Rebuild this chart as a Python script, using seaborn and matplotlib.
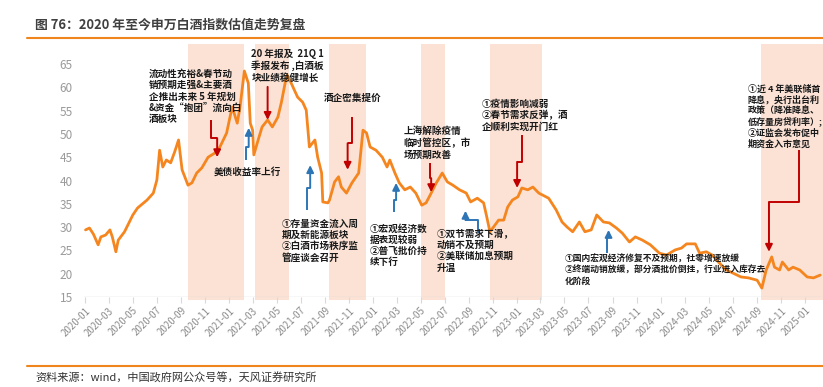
import matplotlib
matplotlib.use('Agg')
import matplotlib.pyplot as plt
import matplotlib.dates as mdates
import numpy as np
import pandas as pd
import seaborn as sns

# 申万白酒指数 PE(TTM)，读图估计
dates = [
    '2020-01-02', '2020-01-12', '2020-01-22', '2020-02-03', '2020-02-10', '2020-02-22',
    '2020-03-04', '2020-03-10', '2020-03-19', '2020-03-25', '2020-04-10', '2020-05-01',
    '2020-05-13', '2020-06-06', '2020-06-22', '2020-07-01', '2020-07-08', '2020-07-16',
    '2020-07-25', '2020-08-05', '2020-08-15', '2020-08-25', '2020-09-03', '2020-09-18',
    '2020-09-28', '2020-10-10', '2020-10-23', '2020-11-08', '2020-11-25', '2020-12-08',
    '2020-12-25', '2021-01-08', '2021-01-21', '2021-01-28', '2021-02-08', '2021-02-18',
    '2021-02-23', '2021-03-01', '2021-03-04', '2021-03-15', '2021-03-25', '2021-04-08',
    '2021-04-20', '2021-05-04', '2021-05-13', '2021-05-24', '2021-05-28', '2021-06-09',
    '2021-06-23', '2021-07-06', '2021-07-15', '2021-07-23', '2021-08-06', '2021-08-13',
    '2021-08-23', '2021-08-26', '2021-09-08', '2021-09-12', '2021-09-25', '2021-10-05',
    '2021-10-12', '2021-10-25', '2021-11-08', '2021-11-25', '2021-12-06', '2021-12-15',
    '2021-12-24', '2022-01-08', '2022-01-24', '2022-02-05', '2022-02-12', '2022-02-25',
    '2022-03-08', '2022-03-22', '2022-04-05', '2022-04-19', '2022-05-04', '2022-05-15',
    '2022-05-28', '2022-06-10', '2022-06-25', '2022-07-08', '2022-07-22', '2022-08-08',
    '2022-08-25', '2022-09-05', '2022-09-22', '2022-10-08', '2022-10-16', '2022-10-24',
    '2022-11-02', '2022-11-15', '2022-11-28', '2022-12-08', '2022-12-20', '2023-01-03',
    '2023-01-13', '2023-01-28', '2023-02-10', '2023-02-25', '2023-03-15', '2023-03-22',
    '2023-04-10', '2023-04-25', '2023-05-08', '2023-05-22', '2023-06-08', '2023-06-22',
    '2023-07-08', '2023-07-22', '2023-08-08', '2023-08-23', '2023-09-10', '2023-09-25',
    '2023-10-13', '2023-10-28', '2023-11-15', '2023-12-05', '2023-12-28', '2024-01-15',
    '2024-02-06', '2024-02-22', '2024-03-06', '2024-03-28', '2024-04-08', '2024-04-25',
    '2024-05-10', '2024-05-28', '2024-06-15', '2024-06-30', '2024-07-22', '2024-08-10',
    '2024-09-01', '2024-09-13', '2024-09-24', '2024-10-08', '2024-10-15', '2024-10-28',
    '2024-11-04', '2024-11-20', '2024-12-01', '2024-12-18', '2025-01-06', '2025-01-22',
    '2025-02-08',
]
pe = [
    29.4, 29.8, 28.5, 26.2, 27.9, 28.3,
    29.4, 27.9, 24.7, 27.2, 29.0, 32.6,
    34.1, 35.8, 37.3, 40.1, 46.5, 42.9,
    44.4, 43.8, 46.1, 48.7, 42.3, 39.0,
    39.5, 41.6, 42.7, 45.0, 45.9, 47.2,
    50.2, 55.8, 52.3, 55.8, 63.5, 60.9,
    52.3, 50.8, 45.5, 48.7, 51.5, 53.0,
    51.5, 53.6, 56.8, 61.6, 62.6, 60.5,
    57.9, 56.8, 55.1, 47.2, 48.7, 45.0,
    41.6, 35.4, 35.2, 35.8, 39.7, 40.8,
    38.6, 37.3, 39.5, 41.6, 50.8, 50.2,
    47.2, 46.5, 45.0, 42.9, 44.4, 41.6,
    39.5, 38.0, 38.6, 37.3, 34.7, 35.2,
    37.3, 39.5, 41.6, 39.7, 39.0, 38.0,
    37.3, 35.4, 36.2, 35.2, 32.2, 29.0,
    30.0, 31.5, 31.5, 34.3, 35.8, 36.5,
    38.4, 38.0, 38.6, 37.3, 36.5, 36.2,
    33.7, 31.1, 30.0, 29.0, 31.1, 29.0,
    29.4, 32.6, 31.1, 30.9, 29.8, 28.7,
    26.8, 27.9, 27.2, 26.2, 24.4, 24.0,
    25.1, 25.5, 26.4, 26.4, 24.4, 24.7,
    24.0, 22.3, 20.8, 20.2, 19.3, 19.1,
    18.6, 16.9, 20.8, 23.6, 21.4, 20.8,
    22.5, 20.8, 21.4, 20.8, 19.3, 19.1,
    19.7,
]

# 阴影区间
span_start = ['2020-09-18', '2021-03-06', '2021-09-10', '2022-05-03', '2022-10-25', '2024-09-10']
span_end = ['2021-02-08', '2021-06-01', '2021-12-13', '2022-07-01', '2023-03-06', '2025-03-01']

# 注释文字：(左上角日期, 左上角数值, 文本, 字号)
notes = [
    ('2020-06-11', 64.0, '流动性充裕&春节动\n销预期走强&主要酒\n企推出未来 5 年规划\n&资金“抱团”流向白\n酒板块', 6.9),
    ('2020-11-21', 43.0, '美债收益率上行', 6.9),
    ('2021-02-26', 68.3, '20 年报及  21Q 1\n季报发布 ,白酒板\n块业绩稳健增长', 6.9),
    ('2021-08-29', 58.9, '酒企密集提价', 6.9),
    ('2021-05-13', 31.8, '①存量资金流入周\n期及新能源板块\n②白酒市场秩序监\n管座谈会召开', 6.9),
    ('2021-12-23', 30.8, '①宏观经济数\n据表现较弱\n②普飞批价持\n续下行', 6.9),
    ('2022-03-19', 51.6, '上海解除疫情\n临时管控区，市\n场预期改善', 6.9),
    ('2022-06-10', 29.7, '①双节需求下滑，\n动销不及预期\n②美联储加息预期\n升温', 6.9),
    ('2022-10-04', 57.6, '①疫情影响减弱\n②春节需求反弹，酒\n企顺利实现开门红', 6.9),
    ('2023-05-01', 24.1, '①国内宏观经济修复不及预期，社零增速放缓\n②终端动销放缓，部分酒批价倒挂，行业进入库存去\n化阶段', 6.3),
    ('2024-08-08', 60.7, '①近 4 年美联储首\n降息，央行出台利\n政策（降准降息、\n低存量房贷利率）;\n②证监会发布促中\n期资金入市意见', 6.5),
]

# 箭头折线：(颜色, [(日期, 数值), ...])，最后一点为箭头尖
RED = '#C00000'
BLUE = '#2E75B6'
arrows = [
    (RED, [('2020-11-16', 53.0), ('2020-11-16', 49.1), ('2020-12-01', 49.1), ('2020-12-01', 45.0)]),
    (BLUE, [('2021-02-13', 44.4), ('2021-02-13', 47.2), ('2021-02-19', 47.2), ('2021-02-19', 51.3)]),
    (RED, [('2021-04-08', 60.1), ('2021-04-08', 53.0)]),
    (RED, [('2021-11-08', 53.6), ('2021-11-08', 48.0), ('2021-10-28', 48.0), ('2021-10-28', 42.3)]),
    (BLUE, [('2021-07-18', 33.7), ('2021-07-18', 38.4), ('2021-07-25', 38.4), ('2021-07-25', 43.3)]),
    (BLUE, [('2022-02-23', 33.2), ('2022-02-23', 35.8), ('2022-02-28', 35.8), ('2022-02-28', 39.5)]),
    (RED, [('2022-05-25', 43.8), ('2022-05-25', 40.5), ('2022-05-28', 40.5), ('2022-05-28', 37.5)]),
    (BLUE, [('2022-09-25', 28.7), ('2022-09-25', 31.5), ('2022-08-23', 31.5), ('2022-08-23', 33.5)]),
    (RED, [('2023-01-13', 49.8), ('2023-01-13', 44.0), ('2023-01-01', 44.0), ('2023-01-01', 38.4)]),
    (BLUE, [('2023-08-16', 24.4), ('2023-08-16', 27.9), ('2023-08-21', 27.9), ('2023-08-21', 29.4)]),
    (RED, [('2024-12-16', 46.5), ('2024-12-16', 35.4), ('2024-10-01', 35.4), ('2024-10-01', 24.7)]),
]

yticks = [15, 20, 25, 30, 35, 40, 45, 50, 55, 60, 65]

sns.set_theme(style='white')
plt.rcParams['font.family'] = ['Noto Sans CJK SC', 'DejaVu Sans']
plt.rcParams['axes.unicode_minus'] = False

df = pd.DataFrame({'date': pd.to_datetime(dates), 'pe': pe})

fig = plt.figure(figsize=(8.23, 3.87), dpi=100)
ax = fig.add_axes([0.102, 0.2326, 0.897, 0.6537])

for s, e in zip(span_start, span_end):
    ax.axvspan(pd.Timestamp(s), pd.Timestamp(e), ymin=-0.012, ymax=1.0,
               color='#FBE2D5', lw=0, zorder=0, clip_on=False)

sns.lineplot(data=df, x='date', y='pe', ax=ax, color='#F5861F', lw=2.0, zorder=3)

ax.axhline(15, color='#D9D9D9', lw=1.0, zorder=1)

for color, pts in arrows:
    xs = [pd.Timestamp(p[0]) for p in pts]
    ys = [p[1] for p in pts]
    ax.plot(xs[:-1], ys[:-1], color=color, lw=1.4, zorder=4, solid_capstyle='butt')
    ax.annotate('', xy=(xs[-1], ys[-1]), xytext=(xs[-2], ys[-2]),
                arrowprops=dict(arrowstyle='-|>,head_length=0.7,head_width=0.35',
                                mutation_scale=6, color=color, lw=1.4,
                                shrinkA=0, shrinkB=0),
                zorder=4)

for d, v, txt, fs in notes:
    ax.text(pd.Timestamp(d), v, txt, ha='left', va='top', fontsize=fs,
            fontweight='bold', color='#1A1A1A', linespacing=1.2 * 6.7 / fs, zorder=5)

ax.set_xlim(pd.Timestamp('2019-12-29'), pd.Timestamp('2025-02-13'))
ax.set_ylim(15, 69.3)
ax.set_yticks(yticks)
ax.set_xticks(pd.date_range('2020-01-01', '2025-01-01', freq='2MS'))
ax.xaxis.set_major_formatter(mdates.DateFormatter('%Y-%m'))
ax.tick_params(axis='y', length=0, labelsize=8.5, labelcolor='#9A9A9A', pad=8)
ax.tick_params(axis='x', length=4, width=0.8, color='#D9D9D9', labelsize=7,
               labelcolor='#8C8C8C', pad=2, direction='out', bottom=True)
for lab in ax.get_xticklabels():
    lab.set_rotation(45)
    lab.set_ha('right')
    lab.set_rotation_mode('anchor')
ax.set_xlabel('')
ax.set_ylabel('')
for sp in ['top', 'right', 'left', 'bottom']:
    ax.spines[sp].set_visible(False)
ax.grid(False)

fig.text(0.043, 0.935, '图 76：2020 年至今申万白酒指数估值走势复盘', fontsize=9.3,
         fontweight='bold', color='#404040', va='center', ha='left')
fig.add_artist(plt.Line2D([0.033, 1.0], [0.902, 0.902], color='#F0851E', lw=1.5))
fig.add_artist(plt.Line2D([0.033, 1.0], [0.054, 0.054], color='#F0851E', lw=1.5))
fig.text(0.043, 0.022, '资料来源：wind，中国政府网公众号等，天风证券研究所', fontsize=8,
         color='#333333', va='center', ha='left')

fig.savefig('out.png', dpi=100)
